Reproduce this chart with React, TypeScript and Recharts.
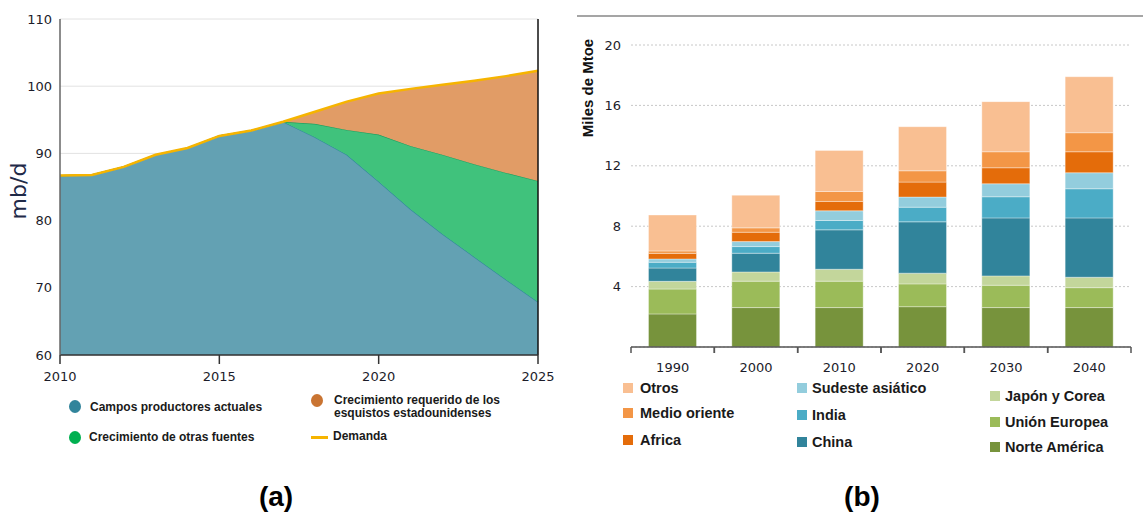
import React from 'react';
import {
  ComposedChart,
  Area,
  Line,
  XAxis,
  YAxis,
  CartesianGrid,
  ReferenceLine,
  BarChart,
  Bar,
  Label,
} from 'recharts';

// ---------- Panel (a): oil supply vs demand (mb/d) ----------
const years = [2010, 2011, 2012, 2013, 2014, 2015, 2016, 2017, 2018, 2019, 2020, 2021, 2022, 2023, 2024, 2025];
const currentFields = [86.7, 86.8, 88.0, 89.8, 90.8, 92.6, 93.4, 94.7, 92.4, 89.8, 85.8, 81.7, 78.0, 74.6, 71.2, 67.9];
const otherSources = [0, 0, 0, 0, 0, 0, 0, 0, 2.0, 3.7, 7.0, 9.4, 11.8, 13.8, 15.9, 18.0];
const usShale = [0, 0, 0, 0, 0, 0, 0, 0, 1.8, 4.2, 6.1, 8.5, 10.4, 12.4, 14.4, 16.4];
const demand = [86.7, 86.8, 88.0, 89.8, 90.8, 92.6, 93.4, 94.7, 96.2, 97.7, 98.9, 99.6, 100.2, 100.8, 101.5, 102.3];
const yTicksA = [60, 70, 80, 90, 100, 110];
const xTicksA = [2010, 2015, 2020, 2025];

// ---------- Panel (b): energy demand by region (Miles de Mtoe) ----------
const decades = ['1990', '2000', '2010', '2020', '2030', '2040'];
const northAmerica = [2.19, 2.61, 2.61, 2.67, 2.61, 2.61];
const europeanUnion = [1.65, 1.75, 1.75, 1.51, 1.48, 1.32];
const japanKorea = [0.51, 0.61, 0.79, 0.71, 0.62, 0.69];
const china = [0.88, 1.24, 2.61, 3.4, 3.84, 3.93];
const india = [0.38, 0.44, 0.62, 0.97, 1.4, 1.93];
const southeastAsia = [0.22, 0.33, 0.64, 0.67, 0.86, 1.06];
const africa = [0.37, 0.62, 0.62, 0.99, 1.06, 1.39];
const middleEast = [0.16, 0.29, 0.66, 0.75, 1.06, 1.26];
const others = [2.38, 2.16, 2.72, 2.92, 3.32, 3.71];
const yTicksB = [4, 8, 12, 16, 20];

const seriesB = [
  { key: 'na', name: 'Norte América', color: '#77933c', values: northAmerica },
  { key: 'eu', name: 'Unión Europea', color: '#9bbb59', values: europeanUnion },
  { key: 'jk', name: 'Japón y Corea', color: '#c3d69b', values: japanKorea },
  { key: 'cn', name: 'China', color: '#31849b', values: china },
  { key: 'in', name: 'India', color: '#4bacc6', values: india },
  { key: 'sea', name: 'Sudeste asiático', color: '#93cddd', values: southeastAsia },
  { key: 'af', name: 'Africa', color: '#e46c0a', values: africa },
  { key: 'me', name: 'Medio oriente', color: '#f39646', values: middleEast },
  { key: 'ot', name: 'Otros', color: '#f9bf92', values: others },
];

const legendColumnsB = [
  { left: 623, textLeft: 640, rows: [388, 413, 440], keys: ['ot', 'me', 'af'] },
  { left: 797, textLeft: 812, rows: [388, 415, 442], keys: ['sea', 'in', 'cn'] },
  { left: 990, textLeft: 1005, rows: [396, 422, 447], keys: ['jk', 'eu', 'na'] },
];

const dataA = years.map((year, i) => ({
  year,
  current: currentFields[i],
  other: otherSources[i],
  shale: usShale[i],
  demand: demand[i],
}));

const dataB = decades.map((decade, i) => {
  const row: Record<string, string | number> = { decade };
  seriesB.forEach((s) => {
    row[s.key] = s.values[i];
  });
  return row;
});

const tickFont = { fontFamily: 'DejaVu Sans, sans-serif', fontSize: 13, fill: '#1c1c2a' };
const legendFont: React.CSSProperties = {
  fontFamily: '"Liberation Sans", Arial, sans-serif',
  fontWeight: 'bold',
  color: '#1a1a1a',
  position: 'absolute',
  whiteSpace: 'nowrap',
};

const DecadeTick = (props: any) => {
  const { x, y, payload } = props;
  const half = payload && payload.offset ? payload.offset : 500 / 12;
  return (
    <g>
      <line x1={x - half} y1={y} x2={x - half} y2={y + 6} stroke="#555" strokeWidth={1.5} />
      <line x1={x + half} y1={y} x2={x + half} y2={y + 6} stroke="#555" strokeWidth={1.5} />
      <text x={x} y={y + 20} textAnchor="middle" dominantBaseline="central" {...tickFont}>
        {payload.value}
      </text>
    </g>
  );
};

const LegendTextA = ({ left, top, children }: any) => (
  <div style={{ ...legendFont, fontSize: 12, left, top, lineHeight: '13px', transform: 'translateY(-50%)' }}>{children}</div>
);

export default function App() {
  return (
    <div style={{ position: 'absolute', left: 0, top: 0, width: 1143, height: 521, background: '#fff', overflow: 'hidden' }}>
      {/* Panel (a) */}
      <div style={{ position: 'absolute', left: 0, top: 0 }}>
        <ComposedChart width={560} height={385} data={dataA} margin={{ top: 19, right: 22, bottom: 0, left: 0 }}>
          <CartesianGrid vertical={false} stroke="#e2e2e2" />
          <XAxis
            dataKey="year"
            type="number"
            domain={[2010, 2025]}
            ticks={xTicksA}
            height={30}
            tickSize={9}
            tickMargin={8}
            axisLine={{ stroke: '#333', strokeWidth: 1.5 }}
            tickLine={{ stroke: '#333', strokeWidth: 1.5 }}
            tick={tickFont}
          />
          <YAxis
            domain={[60, 110]}
            ticks={yTicksA}
            allowDataOverflow
            width={60}
            axisLine={{ stroke: '#666', strokeWidth: 1.5 }}
            tickLine={false}
            tick={tickFont}
          >
            <Label
              content={(p: any) => {
                const vb = p.viewBox || { x: 0, y: 19, height: 336 };
                const cx = vb.x + 18;
                const cy = vb.y + vb.height / 2 + 4;
                return (
                  <text
                    x={cx}
                    y={cy}
                    transform={`rotate(-90, ${cx}, ${cy})`}
                    textAnchor="middle"
                    dominantBaseline="central"
                    fontFamily="DejaVu Sans, sans-serif"
                    fontSize={22}
                    fill="#1f2a48"
                  >
                    mb/d
                  </text>
                );
              }}
            />
          </YAxis>
          <Area
            dataKey="current"
            stackId="s"
            type="linear"
            fill="#63a1b3"
            fillOpacity={1}
            stroke="#2f8a9a"
            strokeWidth={1.2}
            isAnimationActive={false}
          />
          <Area
            dataKey="other"
            stackId="s"
            type="linear"
            fill="#40c27c"
            fillOpacity={1}
            stroke="#1fa060"
            strokeWidth={1.2}
            isAnimationActive={false}
          />
          <Area
            dataKey="shale"
            stackId="s"
            type="linear"
            fill="#e19c66"
            fillOpacity={1}
            stroke="none"
            isAnimationActive={false}
          />
          <Line dataKey="demand" type="linear" stroke="#f6b400" strokeWidth={2.5} dot={false} isAnimationActive={false} />
          <ReferenceLine x={2025} stroke="#111" strokeWidth={1.5} />
        </ComposedChart>
      </div>

      {/* Legend (a) */}
      <div style={{ position: 'absolute', left: 69, top: 400, width: 12, height: 13, borderRadius: '50%', background: '#31849b' }} />
      <LegendTextA left={90} top={407}>Campos productores actuales</LegendTextA>
      <div style={{ position: 'absolute', left: 311, top: 394, width: 12, height: 13, borderRadius: '50%', background: '#c97432' }} />
      <LegendTextA left={334} top={407}>
        Crecimiento requerido de los
        <br />
        esquistos estadounidenses
      </LegendTextA>
      <div style={{ position: 'absolute', left: 69, top: 431, width: 12, height: 13, borderRadius: '50%', background: '#00b050' }} />
      <LegendTextA left={89} top={437}>Crecimiento de otras fuentes</LegendTextA>
      <div style={{ position: 'absolute', left: 311, top: 436, width: 17, height: 2.5, background: '#f6b400' }} />
      <LegendTextA left={333} top={436}>Demanda</LegendTextA>

      {/* Panel (b) */}
      <div style={{ position: 'absolute', left: 577, top: 15, width: 566, height: 2, background: '#a5a5a5' }} />
      <div style={{ position: 'absolute', left: 570, top: 0 }}>
        <BarChart width={573} height={390} data={dataB} margin={{ top: 45, right: 12, bottom: 0, left: 0 }} barCategoryGap="21%">
          <CartesianGrid vertical={false} stroke="#c8c8c8" strokeDasharray="2 2" />
          <XAxis
            dataKey="decade"
            height={43}
            tickSize={0}
            tickMargin={0}
            axisLine={{ stroke: '#555', strokeWidth: 1.5 }}
            tickLine={false}
            tick={<DecadeTick />}
          />
          <YAxis
            domain={[0, 20]}
            ticks={yTicksB}
            width={61}
            axisLine={false}
            tickLine={false}
            tickSize={6}
            tickMargin={4}
            tick={tickFont}
          >
            <Label
              content={(p: any) => {
                const vb = p.viewBox || { x: 0, y: 45, height: 302 };
                const cx = vb.x + 17;
                const cy = vb.y + 43;
                return (
                  <text
                    x={cx}
                    y={cy}
                    transform={`rotate(-90, ${cx}, ${cy})`}
                    textAnchor="middle"
                    dominantBaseline="central"
                    fontFamily='"Liberation Sans", Arial, sans-serif'
                    fontWeight="bold"
                    fontSize={15}
                    fill="#111"
                  >
                    Miles de Mtoe
                  </text>
                );
              }}
            />
          </YAxis>
          {seriesB.map((s) => (
            <Bar
              key={s.key}
              dataKey={s.key}
              name={s.name}
              stackId="b"
              fill={s.color}
              stroke="#ffffff"
              strokeOpacity={0.35}
              strokeWidth={1}
              isAnimationActive={false}
            />
          ))}
        </BarChart>
      </div>

      {/* Legend (b) */}
      {legendColumnsB.map((col, ci) =>
        col.keys.map((k, ri) => {
          const s = seriesB.find((x) => x.key === k)!;
          const y = col.rows[ri];
          return (
            <React.Fragment key={`${ci}-${k}`}>
              <div style={{ position: 'absolute', left: col.left, top: y - 5, width: 10, height: 10, background: s.color }} />
              <div style={{ ...legendFont, fontSize: 14.5, left: col.textLeft, top: y, lineHeight: '16px', transform: 'translateY(-50%)' }}>
                {s.name}
              </div>
            </React.Fragment>
          );
        })
      )}

      {/* Captions */}
      <div style={{ ...legendFont, fontSize: 28, color: '#000', left: 276, top: 497, transform: 'translate(-50%, -50%)', lineHeight: '30px' }}>
        (a)
      </div>
      <div style={{ ...legendFont, fontSize: 28, color: '#000', left: 862, top: 497, transform: 'translate(-50%, -50%)', lineHeight: '30px' }}>
        (b)
      </div>
    </div>
  );
}
